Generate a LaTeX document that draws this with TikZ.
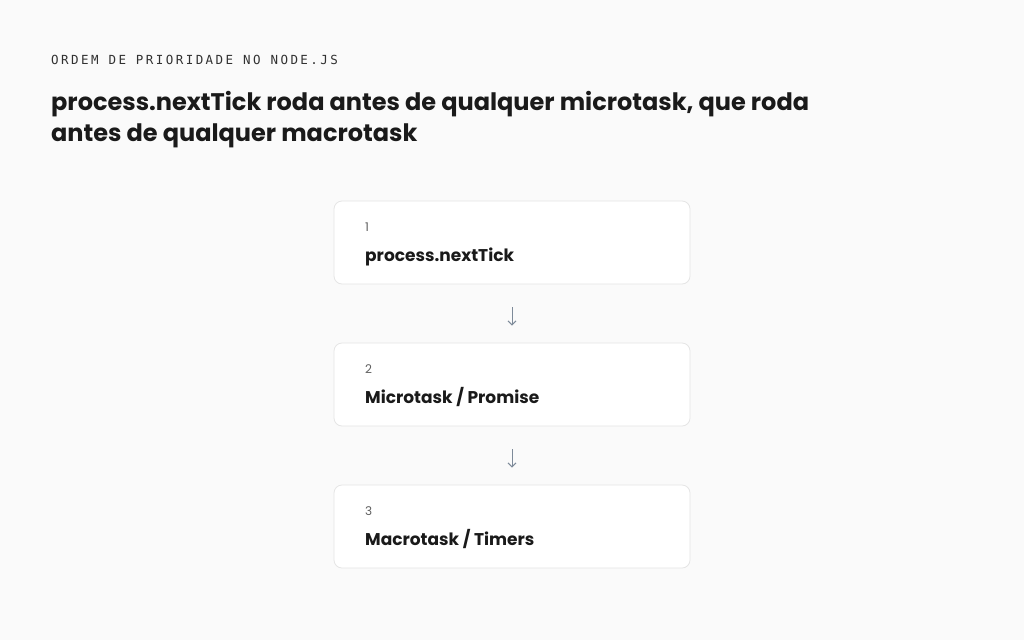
\documentclass[tikz,border=0pt]{standalone}
\usepackage{fontspec}
\setmainfont{Poppins}
\newfontfamily\labelmono[LetterSpace=19.5]{DejaVu Sans Mono}
\usetikzlibrary{arrows.meta}
\definecolor{bgcol}{HTML}{FAFAFA}
\definecolor{edgecol}{HTML}{E5E5E5}
\definecolor{inkcol}{HTML}{1A1A1A}
\definecolor{mutedcol}{HTML}{5F5F5F}
\definecolor{arrowcol}{HTML}{7D8A99}

\begin{document}
\begin{tikzpicture}[x=1pt,y=-1pt,
	stepbox/.style={draw=edgecol, fill=white, rounded corners=8pt, line width=0.8pt, minimum width=356pt, minimum height=83pt, inner sep=0pt},
	stepnum/.style={anchor=base west, text=mutedcol, inner sep=0pt, font=\fontsize{12}{14}\selectfont},
	steplabel/.style={anchor=base west, text=inkcol, inner sep=0pt, font=\bfseries\fontsize{17}{20}\selectfont},
	nextstep/.style={-{Straight Barb[length=4pt,width=8pt]}, draw=arrowcol, line width=1pt}]
			\fill[bgcol] (0,0) rectangle (1024,640);
			\useasboundingbox (0,0) rectangle (1024,640);
			
			\node[anchor=base west, inner sep=0pt, text=inkcol!90, font=\labelmono\fontsize{12.5}{14}\selectfont] (kicker) at (51,64) {ORDEM DE PRIORIDADE NO NODE.JS};
			\node[anchor=base west, inner sep=0pt, text=inkcol, font=\bfseries\fontsize{24}{31}\selectfont] (title) at (51,110) {process.nextTick roda antes de qualquer microtask, que roda};
			\node[anchor=base west, inner sep=0pt, text=inkcol, font=\bfseries\fontsize{24}{31}\selectfont] (title2) at (51,141) {antes de qualquer macrotask};
			
			\node[stepbox] (tick) at (512,242.5) {};
			\node[stepbox] (micro) at (512,384.5) {};
			\node[stepbox] (macro) at (512,526.5) {};
			
			\node[stepnum] (tickn) at (365,231) {1};
			\node[steplabel] (tickl) at (365,261) {process.nextTick};
			\node[stepnum] (micron) at (365,373) {2};
			\node[steplabel] (microl) at (365,403) {Microtask / Promise};
			\node[stepnum] (macron) at (365,515) {3};
			\node[steplabel] (macrol) at (365,545) {Macrotask / Timers};
			
			\draw[nextstep, shorten <=23pt, shorten >=17pt] (tick) -- (micro);
			\draw[nextstep, shorten <=23pt, shorten >=17pt] (micro) -- (macro);
\end{tikzpicture}
\end{document}
